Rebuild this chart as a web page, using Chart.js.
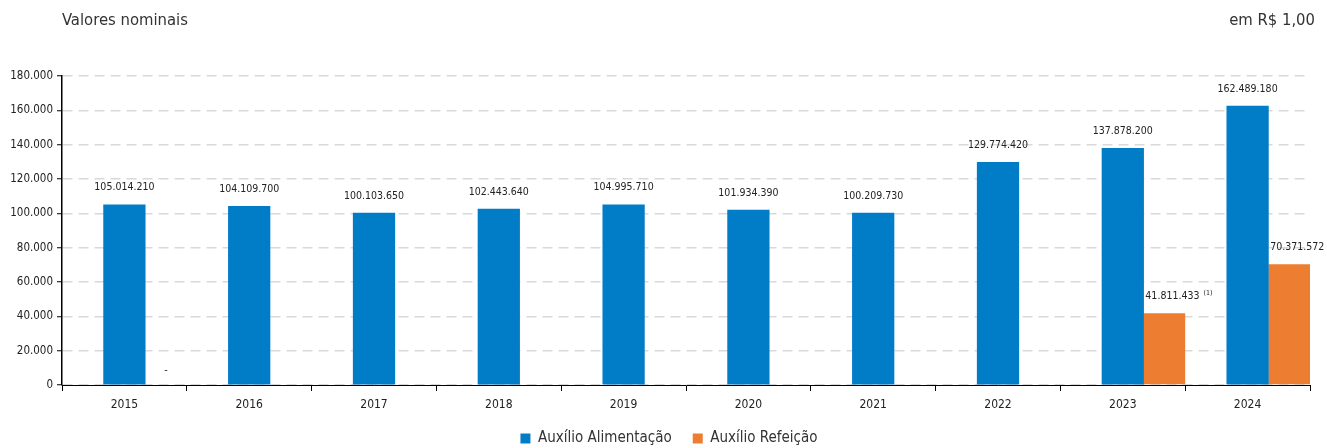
<!DOCTYPE html>
<html>
<head>
<meta charset="utf-8">
<script src="https://cdn.jsdelivr.net/npm/chart.js@4.4.0/dist/chart.umd.min.js"></script>
<style>
  html, body { margin: 0; padding: 0; background: #fff; }
  #wrap { width: 1327px; height: 448px; }
</style>
</head>
<body>
<div id="wrap"><canvas id="barChart"></canvas></div>
<script>
// valores em R$ 1,00
var anos = ["2015", "2016", "2017", "2018", "2019", "2020", "2021", "2022", "2023", "2024"];
var alimentacao = [105014210, 104109700, 100103650, 102443640, 104995710, 101934390, 100209730, 129774420, 137878200, 162489180];
var refeicao = [0, null, null, null, null, null, null, null, 41811433, 70371572];
var notasRefeicao = ["", "", "", "", "", "", "", "", "(1)", ""];
var yMax = 180000000;
var yStep = 20000000;

var fonte = "'Liberation Sans Narrow', 'DejaVu Sans Condensed', 'Arial Narrow', sans-serif";
var azul = "#007DC6";
var laranja = "#ED7D31";

function pontos(n) {
  return String(Math.round(n)).replace(/\B(?=(\d{3})+(?!\d))/g, ".");
}

var cabecalho = {
  id: "cabecalho",
  afterLayout: function (chart) {
    // legenda centrada na largura toda, não só na área do gráfico
    chart.legend.left += 14;
    chart.legend.right += 14;
  },
  afterDraw: function (chart) {
    var ctx = chart.ctx;
    ctx.save();
    ctx.fillStyle = "#333";
    ctx.font = "16.5px " + fonte;
    ctx.textBaseline = "middle";
    ctx.textAlign = "left";
    ctx.fillText("Valores nominais", 62, 21);
    ctx.textAlign = "right";
    ctx.fillText("em R$ 1,00", 1315, 21);
    ctx.restore();
  }
};

var rotulos = {
  id: "rotulos",
  afterDatasetsDraw: function (chart) {
    var ctx = chart.ctx;
    ctx.save();
    ctx.fillStyle = "#222";
    ctx.textBaseline = "middle";
    [1, 2].forEach(function (i) {
      var ds = chart.data.datasets[i];
      chart.getDatasetMeta(i).data.forEach(function (bar, j) {
        var v = ds.data[j];
        if (v === null || v === undefined) return;
        var txt = v === 0 ? "-" : pontos(v);
        var dx = (i === 2 && v > 0) ? 8 : 0;
        ctx.font = "10.5px " + fonte;
        ctx.textAlign = "center";
        var x = bar.x + dx;
        var y = bar.y - (v === 0 ? 15 : 17);
        ctx.fillText(txt, x, y);
        var nota = i === 2 ? notasRefeicao[j] : "";
        if (nota) {
          var w = ctx.measureText(txt).width;
          ctx.font = "7px " + fonte;
          ctx.textAlign = "left";
          ctx.fillText(nota, x + w / 2 + 4, y - 3);
        }
      });
    });
    ctx.restore();
  }
};

var ctx = document.getElementById("barChart").getContext("2d");
var myChart = new Chart(ctx, {
  type: "bar",
  data: {
    labels: anos,
    datasets: [
      {
        label: "",
        data: anos.map(function () { return null; }),
        backgroundColor: "rgba(0,0,0,0)"
      },
      {
        label: "Auxílio Alimentação",
        data: alimentacao,
        backgroundColor: azul
      },
      {
        label: "Auxílio Refeição",
        data: refeicao,
        backgroundColor: laranja,
        inflateAmount: 0
      }
    ]
  },
  options: {
    responsive: true,
    maintainAspectRatio: false,
    animation: false,
    categoryPercentage: 1,
    barPercentage: 1,
    layout: { padding: { left: 0, right: 17, top: 76, bottom: -8 } },
    scales: {
      x: {
        afterFit: function (scale) { scale.height = 25; },
        grid: {
          display: true,
          offset: true,
          drawOnChartArea: false,
          drawTicks: true,
          tickLength: 6,
          color: "#000"
        },
        border: { display: true, color: "#000", width: 1 },
        ticks: {
          color: "#222",
          padding: 7,
          font: { family: fonte, size: 12 }
        }
      },
      y: {
        min: 0,
        max: yMax,
        afterFit: function (scale) { scale.width = 62; },
        ticks: {
          stepSize: yStep,
          color: "#222",
          padding: 4,
          font: { family: fonte, size: 11.5 },
          callback: function (v) { return pontos(v / 1000); }
        },
        grid: {
          color: "#d9d9d9",
          lineWidth: 1.5,
          tickColor: "#000",
          tickLength: 5,
          tickWidth: 1
        },
        border: { display: true, color: "#000", width: 1.5, dash: [10, 6] }
      }
    },
    plugins: {
      legend: {
        position: "bottom",
        labels: {
          boxWidth: 10,
          boxHeight: 10,
          padding: 21,
          color: "#333",
          font: { family: fonte, size: 15 },
          filter: function (item) { return item.datasetIndex !== 0; }
        }
      },
      tooltip: { enabled: false }
    }
  },
  plugins: [cabecalho, rotulos]
});
</script>
</body>
</html>
